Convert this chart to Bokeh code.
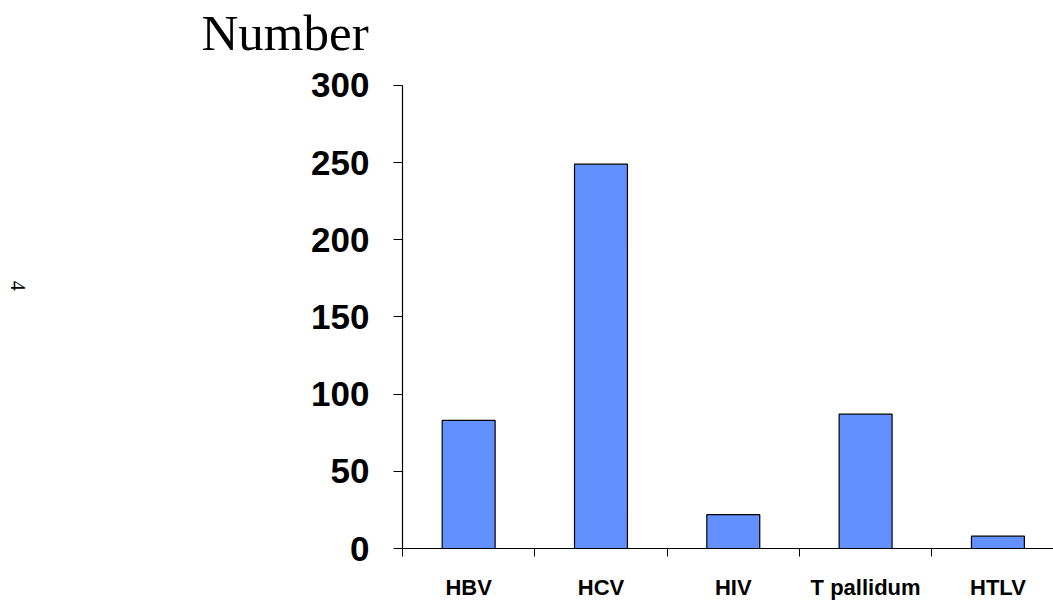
import math
from bokeh.plotting import figure
from bokeh.models import Range1d, FixedTicker, ColumnDataSource, Title, LinearAxis
from bokeh.embed import file_html
from bokeh.resources import INLINE

categories = ["HBV", "HCV", "HIV", "T pallidum", "HTLV"]
counts = [83, 249, 22, 87, 8]
y_ticks = [0, 50, 100, 150, 200, 250, 300]
y_title = "Number"
page_number = "4"

xs = [i + 0.5 for i in range(len(categories))]
src = ColumnDataSource(dict(x=xs, top=counts, name=categories))

W, H = 1053, 602
p = figure(width=W, height=H, output_backend="svg", toolbar_location=None,
           x_range=Range1d(0, 4.92), y_range=Range1d(0, 314.2),
           min_border_left=401, min_border_right=0, min_border_top=62,
           min_border_bottom=53)
p.outline_line_color = None
p.xgrid.visible = False
p.ygrid.visible = False
p.background_fill_color = "white"
p.border_fill_color = "white"

p.vbar(x="x", top="top", width=0.4, bottom=0, source=src,
       fill_color="#6390FF", line_color="black", line_width=1.2)

# x axis: labels at category centres, tick marks at category boundaries
xa = p.xaxis[0]
xa.ticker = FixedTicker(ticks=xs, minor_ticks=list(range(len(categories) + 1)))
xa.major_label_overrides = {x: c for x, c in zip(xs, categories)}
xa.major_tick_out = 0
xa.major_tick_in = 0
xa.minor_tick_out = 8
xa.minor_tick_in = 0
xa.minor_tick_line_color = "black"
xa.axis_line_color = "black"
xa.axis_line_width = 1.2
xa.major_label_standoff = 18
xa.major_label_text_font = "Liberation Sans"
xa.major_label_text_font_style = "bold"
xa.major_label_text_font_size = "22px"
xa.major_label_text_color = "black"

ya = p.yaxis[0]
ya.ticker = FixedTicker(ticks=y_ticks, minor_ticks=[])
ya.bounds = (y_ticks[0], y_ticks[-1])
ya.major_tick_out = 9
ya.major_tick_in = 0
ya.major_tick_line_color = "black"
ya.axis_line_color = "black"
ya.axis_line_width = 1.2
ya.major_label_standoff = 24
ya.major_label_text_font = "Liberation Sans"
ya.major_label_text_font_style = "bold"
ya.major_label_text_font_size = "35px"
ya.major_label_text_color = "black"

# page number, rotated, far left
pg_y = 167
pg_axis = LinearAxis(ticker=FixedTicker(ticks=[pg_y], minor_ticks=[]),
                     major_label_overrides={pg_y: page_number},
                     major_label_orientation=-math.pi / 2,
                     axis_line_color=None, major_tick_line_color=None,
                     major_tick_out=0, major_tick_in=0,
                     major_label_standoff=291,
                     major_label_text_font="Liberation Serif",
                     major_label_text_font_size="20px",
                     major_label_text_color="black")
p.add_layout(pg_axis, "left")

p.add_layout(Title(text=y_title, align="left", offset=-201, standoff=5,
                   text_font="Liberation Serif", text_font_style="normal",
                   text_font_size="51px", text_color="black"), "above")

open("out.html", "w").write(file_html(p, INLINE))
